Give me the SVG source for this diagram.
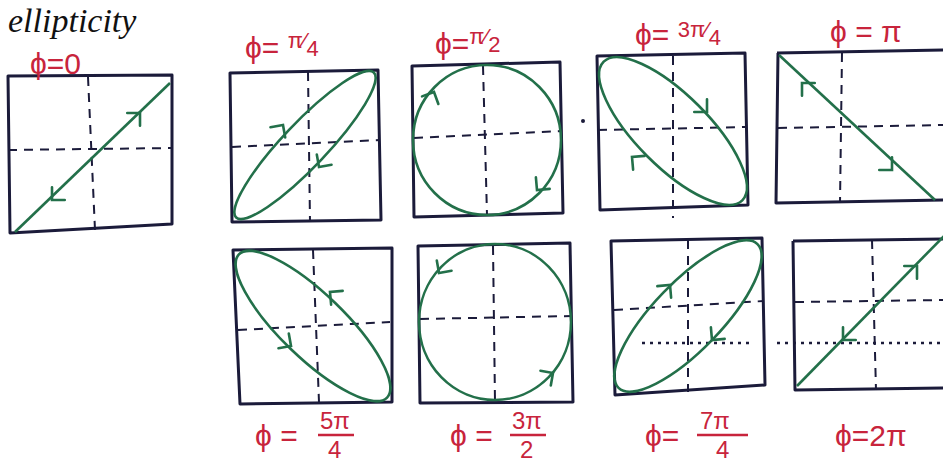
<svg xmlns="http://www.w3.org/2000/svg" xmlns:xlink="http://www.w3.org/1999/xlink" width="943" height="466" viewBox="0 0 943 466">
<style>
.box{fill:none;stroke:#1b1b3a;stroke-width:3;stroke-linejoin:round}
.ax{fill:none;stroke:#1b1b3a;stroke-width:2;stroke-dasharray:9,7}
.dot{fill:none;stroke:#1b1b3a;stroke-width:2.5;stroke-dasharray:3,5}
.cv{fill:none;stroke:#23704a;stroke-width:2.6}
.ah{fill:none;stroke:#23704a;stroke-width:2.6;stroke-linecap:round}
.lb{fill:#c8243c;font-family:"Liberation Sans",Arial,sans-serif;font-size:30px}
.sm{font-size:22px}
.fr{font-size:24px}
.hd{fill:#111;font-family:"Liberation Serif",serif;font-style:italic;font-size:34px}
</style>
<defs>
<path id="ah" class="ah" d="M-9,-9 L0,0 L-9,9"/>
</defs>
<rect width="943" height="466" fill="#fff"/>
<text class="hd" x="8" y="32">ellipticity</text>

<g id="p0">
<path class="box" d="M8,76 L172,75 L172,224 L10,233 Z"/>
<path class="ax" d="M8,150 L172,148"/><path class="ax" d="M88,77 L95,230"/>
<path class="cv" d="M15,232 L170,83"/>
<use xlink:href="#ah" transform="translate(140,113) rotate(-45)"/>
<use xlink:href="#ah" transform="translate(52,200) rotate(135)"/>
<text class="lb" x="30" y="74">ϕ=0</text>
</g>

<g id="p1">
<path class="box" d="M230,73 L378,70 L381,220 L232,222 Z"/>
<path class="ax" d="M232,147 L380,140"/><path class="ax" d="M308,72 L310,222"/>
<ellipse class="cv" cx="305" cy="145" rx="100" ry="22" transform="rotate(-46.5 305 145)"/>
<use xlink:href="#ah" transform="translate(283,125) rotate(-55)"/>
<use xlink:href="#ah" transform="translate(319,167) rotate(125)"/>
<text class="lb" x="245" y="58">ϕ= <tspan class="sm" dy="-10">π</tspan><tspan class="sm">⁄</tspan><tspan class="sm" dy="8">4</tspan></text>
</g>

<g id="p2">
<path class="box" d="M412,66 L560,62 L563,213 L414,217 Z"/>
<path class="ax" d="M414,138 L562,131"/><path class="ax" d="M483,66 L487,215"/>
<ellipse class="cv" cx="487" cy="140" rx="74" ry="75"/>
<use xlink:href="#ah" transform="translate(434,92) rotate(-65)"/>
<use xlink:href="#ah" transform="translate(537,190) rotate(130)"/>
<text class="lb" x="435" y="54">ϕ=<tspan class="sm" dy="-10">π</tspan><tspan class="sm">⁄</tspan><tspan class="sm" dy="8">2</tspan></text>
</g>

<g id="p3">
<path class="box" d="M597,56 L745,53 L748,205 L600,210 Z"/>
<path class="ax" d="M598,130 L747,127"/><path class="ax" d="M673,56 L673,218"/>
<ellipse class="cv" cx="673" cy="131" rx="98" ry="36" transform="rotate(45 673 131)"/>
<use xlink:href="#ah" transform="translate(707,112) rotate(45)"/>
<use xlink:href="#ah" transform="translate(632,157) rotate(-140)"/>
<circle cx="583" cy="121" r="2" fill="#1b1b3a"/>
<text class="lb" x="635" y="45">ϕ= <tspan class="sm" dy="-8">3π</tspan><tspan class="sm">⁄</tspan><tspan class="sm" dy="8">4</tspan></text>
</g>

<g id="p4">
<path class="box" d="M777,53 L945,50 M778,53 L776,203 L945,200"/>
<path class="ax" d="M778,128 L943,125"/><path class="ax" d="M842,53 L840,203"/>
<path class="cv" d="M779,55 L935,200"/>
<use xlink:href="#ah" transform="translate(802,83) rotate(-135)"/>
<use xlink:href="#ah" transform="translate(892,170) rotate(45)"/>
<text class="lb" x="830" y="42">ϕ = π</text>
</g>

<g id="p5">
<path class="box" d="M233,250 L392,248 L392,402 L240,404 Z"/>
<path class="ax" d="M238,330 L390,322"/><path class="ax" d="M313,250 L319,402"/>
<ellipse class="cv" cx="313" cy="326" rx="103" ry="32" transform="rotate(44 313 326)"/>
<use xlink:href="#ah" transform="translate(330,292) rotate(-140)"/>
<use xlink:href="#ah" transform="translate(291,346) rotate(35)"/>
<text class="lb" x="255" y="446">ϕ =</text>
<text class="lb fr" x="320" y="429">5π</text>
<path d="M318,435 L354,435" stroke="#c8243c" stroke-width="2.5"/>
<text class="lb fr" x="328" y="458">4</text>
</g>

<g id="p6">
<path class="box" d="M418,246 L570,243 L573,402 L420,403 Z"/>
<path class="ax" d="M420,319 L572,316"/><path class="ax" d="M493,246 L495,402"/>
<ellipse class="cv" cx="495" cy="322" rx="76" ry="78"/>
<use xlink:href="#ah" transform="translate(439,273) rotate(125)"/>
<use xlink:href="#ah" transform="translate(553,373) rotate(-35)"/>
<text class="lb" x="450" y="446">ϕ =</text>
<text class="lb fr" x="512" y="429">3π</text>
<path d="M510,435 L546,435" stroke="#c8243c" stroke-width="2.5"/>
<text class="lb fr" x="520" y="458">2</text>
</g>

<g id="p7">
<path class="box" d="M611,241 L762,238 L765,385 L615,395 Z"/>
<path class="ax" d="M614,310 L764,301"/><path class="ax" d="M688,240 L688,392"/>
<path class="dot" d="M642,343 L752,343"/>
<ellipse class="cv" cx="688" cy="316" rx="100" ry="34" transform="rotate(-46 688 316)"/>
<use xlink:href="#ah" transform="translate(670,285) rotate(-50)"/>
<use xlink:href="#ah" transform="translate(712,340) rotate(130)"/>
<text class="lb" x="645" y="446">ϕ=</text>
<text class="lb fr" x="700" y="429">7π</text>
<path d="M697,435 L748,435" stroke="#c8243c" stroke-width="2.5"/>
<text class="lb fr" x="716" y="458">4</text>
</g>

<g id="p8">
<path class="box" d="M793,241 L945,239 M793,241 L795,390 L945,388"/>
<path class="ax" d="M795,302 L943,300"/><path class="ax" d="M872,240 L876,390"/>
<path class="dot" d="M777,343 L943,343"/>
<path class="cv" d="M797,386 L945,235"/>
<use xlink:href="#ah" transform="translate(917,266) rotate(-45)"/>
<use xlink:href="#ah" transform="translate(843,340) rotate(135)"/>
<text class="lb" x="835" y="446">ϕ=2π</text>
</g>
</svg>
